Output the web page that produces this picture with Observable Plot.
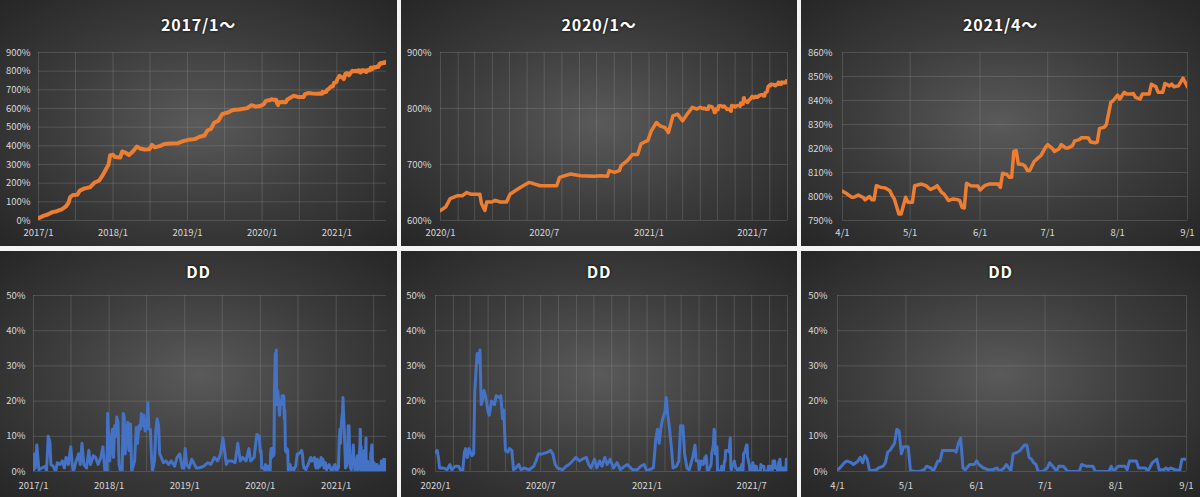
<!DOCTYPE html>
<html><head><meta charset="utf-8">
<script src="https://cdn.jsdelivr.net/npm/d3@7"></script>
<script src="https://cdn.jsdelivr.net/npm/@observablehq/plot@0.6"></script>
<style>
html,body{margin:0;padding:0;background:#fff;}
#page{position:relative;width:1200px;height:497px;background:#f4f4f4;overflow:hidden;}
.panel{position:absolute;overflow:hidden;background:radial-gradient(ellipse farthest-corner at 50% 50%, #5a5a5a 0%, #3d3d3d 50%, #262626 100%);}
.title{box-sizing:border-box;text-align:center;color:#fff;font-family:"Noto Sans CJK JP",sans-serif;font-weight:700;font-size:16px;line-height:32px;letter-spacing:0.8px;text-shadow:0 0 3px rgba(0,0,0,0.9);}
.panel svg{display:block;}
</style></head><body><div id="page"></div>
<script>
// ---------- data ----------
const panelTitles = ["2017/1～", "2020/1～", "2021/4～", "DD", "DD", "DD"];
const rangeStarts = ["2017-01-01", "2020-01-01", "2021-04-01"];
const rangeEnd = "2021-09-01";

const equityTicks = [
  [0, 100, 200, 300, 400, 500, 600, 700, 800, 900],
  [600, 700, 800, 900],
  [790, 800, 810, 820, 830, 840, 850, 860]
];
const equityDomains = [[0, 900], [600, 900], [790, 860]];
const ddTicks = [0, 10, 20, 30, 40, 50];

const xLabelTicks = [
  ["2017-01-01", "2018-01-01", "2019-01-01", "2020-01-01", "2021-01-01"],
  ["2020-01-01", "2020-07-01", "2021-01-01", "2021-07-01"],
  ["2021-04-01", "2021-05-01", "2021-06-01", "2021-07-01", "2021-08-01", "2021-09-01"]
];
const gridMonthStep = [6, 1, 1];

const equityDates = [
  "2017-01-01","2017-01-25","2017-02-15","2017-03-10","2017-04-01","2017-04-25","2017-05-15","2017-05-28",
  "2017-06-05","2017-06-20","2017-07-10","2017-07-22","2017-08-15","2017-09-10","2017-10-01","2017-10-25",
  "2017-11-10","2017-11-28","2017-12-10","2017-12-18","2018-01-01","2018-01-10","2018-02-05","2018-02-15",
  "2018-03-05","2018-03-20","2018-04-10","2018-04-28","2018-05-12","2018-06-05","2018-06-28","2018-07-10",
  "2018-07-25","2018-08-20","2018-09-10","2018-10-10","2018-11-15","2018-12-10","2019-01-05","2019-02-05",
  "2019-03-01","2019-03-25","2019-04-08","2019-04-25","2019-05-10","2019-06-01","2019-06-20","2019-07-20",
  "2019-08-10","2019-09-10","2019-10-20","2019-11-10","2019-12-01","2019-12-20",
  "2020-01-01","2020-01-10","2020-01-18","2020-01-30","2020-02-08","2020-02-16","2020-02-23","2020-03-10",
  "2020-03-13","2020-03-19","2020-03-22","2020-03-31","2020-04-06","2020-04-15","2020-04-26","2020-05-02",
  "2020-05-11","2020-05-20","2020-06-04","2020-06-12","2020-06-24","2020-07-23","2020-07-28","2020-08-16",
  "2020-09-03","2020-09-27","2020-10-08","2020-10-20","2020-10-23","2020-11-01","2020-11-10","2020-11-13",
  "2020-11-24","2020-12-03","2020-12-12","2020-12-18","2020-12-30","2021-01-05","2021-01-14","2021-01-20",
  "2021-01-29","2021-02-04","2021-02-12","2021-02-20","2021-03-01","2021-03-09","2021-03-18","2021-03-26",
  "2021-04-01","2021-04-03","2021-04-05","2021-04-06","2021-04-08","2021-04-10","2021-04-11","2021-04-13",
  "2021-04-14","2021-04-15","2021-04-16","2021-04-18","2021-04-20","2021-04-22","2021-04-23","2021-04-24",
  "2021-04-26","2021-04-27","2021-04-29","2021-04-30","2021-05-02","2021-05-03","2021-05-06","2021-05-08",
  "2021-05-10","2021-05-12","2021-05-13","2021-05-15","2021-05-16","2021-05-18","2021-05-20","2021-05-22",
  "2021-05-23","2021-05-24","2021-05-25","2021-05-26","2021-05-28","2021-05-31","2021-06-01","2021-06-03",
  "2021-06-05","2021-06-07","2021-06-09","2021-06-10","2021-06-11","2021-06-13","2021-06-14","2021-06-15",
  "2021-06-16","2021-06-17","2021-06-18","2021-06-20","2021-06-21","2021-06-22","2021-06-23","2021-06-25",
  "2021-06-27","2021-06-28","2021-06-30","2021-07-01","2021-07-03","2021-07-04","2021-07-06","2021-07-07",
  "2021-07-09","2021-07-10","2021-07-12","2021-07-13","2021-07-15","2021-07-16","2021-07-18","2021-07-19",
  "2021-07-20","2021-07-22","2021-07-23","2021-07-24","2021-07-26","2021-07-27","2021-07-29","2021-07-30",
  "2021-08-01","2021-08-02","2021-08-04","2021-08-05","2021-08-07","2021-08-08","2021-08-09","2021-08-11",
  "2021-08-12","2021-08-15","2021-08-16","2021-08-18","2021-08-19","2021-08-21","2021-08-22","2021-08-24",
  "2021-08-25","2021-08-26","2021-08-28","2021-08-30","2021-08-31","2021-09-01"
];
const equityValues = [
  12,25,32,45,50,60,75,95,
  125,137,138,160,172,178,202,214,
  240,276,300,350,352,340,337,370,
  362,350,372,396,386,380,382,405,
  392,400,410,413,414,425,432,436,
  449,455,482,490,522,535,570,580,
  592,595,602,618,610,613,
  618,624,639,644,644,650,647,647,
  630,618,633,633,636,633,633,647,
  653,659,668,666,662,662,677,683,
  680,679,680,679,689,686,689,698,
  707,718,718,737,743,760,775,769,
  766,757,787,790,778,790,802,799,
  802.2,801.1,799.7,799.7,800.6,799.7,798.6,800,
  798.6,798.6,804.5,803.8,803.5,802.4,800.4,799,
  792.7,792.7,799.7,797.6,797.6,804.5,805.2,804.5,
  802.9,803.8,804.5,801.7,801.1,798.3,799,798.7,
  798.3,795.5,795.2,805.5,804.5,804.4,802.7,804.5,
  805.2,805.2,805.2,803.8,809.7,809.1,808,808,
  818.8,819.1,813.5,813.3,812.6,810.8,810.8,814.6,
  816.3,817,820.5,821.6,820.1,818.8,819.8,821.6,
  820.2,820.2,821.2,823.2,823.7,824.5,824.5,824.4,
  822.7,822.4,822.7,828.4,828.8,829.9,839.2,839.9,
  842.2,840.6,843.4,842.7,842.7,842.9,841.3,840.6,
  842.7,842.7,846.8,845.7,843.4,843.4,847.1,846.1,
  846.8,845.7,846.1,849.3,847.5,845.7
];

const ddDates = [
  "2017-01-01","2017-01-06","2017-01-10","2017-01-17","2017-01-22","2017-01-27","2017-02-10","2017-02-26",
  "2017-03-05","2017-03-13","2017-03-21","2017-03-26","2017-04-06","2017-04-18","2017-04-26","2017-05-09",
  "2017-05-20","2017-05-30","2017-06-07","2017-06-18","2017-06-30","2017-07-07","2017-07-13","2017-07-26",
  "2017-08-07","2017-08-15","2017-08-23","2017-09-01","2017-09-14","2017-09-25","2017-10-03","2017-10-17",
  "2017-10-28","2017-11-09","2017-11-22","2017-12-02","2017-12-12","2017-12-22","2017-12-25","2017-12-30",
  "2018-01-04","2018-01-12","2018-01-17","2018-01-22","2018-01-28","2018-02-02","2018-02-07","2018-02-13",
  "2018-02-18","2018-02-26","2018-03-05","2018-03-10","2018-03-15","2018-03-20","2018-03-25","2018-04-01",
  "2018-04-07","2018-04-14","2018-04-20","2018-05-04","2018-05-12","2018-05-18","2018-05-25","2018-06-01",
  "2018-06-06","2018-06-11","2018-06-17","2018-06-24","2018-07-01","2018-07-07","2018-07-12","2018-07-19",
  "2018-07-24","2018-07-29","2018-08-08","2018-08-15","2018-08-21","2018-08-28","2018-09-02","2018-09-10",
  "2018-09-20","2018-10-03","2018-10-15","2018-10-28","2018-11-13","2018-11-25","2018-12-08","2018-12-20",
  "2018-12-28","2019-01-03","2019-01-10","2019-01-22","2019-02-04","2019-02-26","2019-03-09","2019-04-03",
  "2019-04-23","2019-05-07","2019-05-24","2019-06-09","2019-06-23","2019-07-04","2019-07-21","2019-07-29",
  "2019-08-15","2019-09-01","2019-09-14","2019-09-26","2019-10-08","2019-10-24","2019-11-07","2019-11-15",
  "2019-12-02","2019-12-10","2019-12-15","2019-12-27",
  "2020-01-01","2020-01-04","2020-01-06","2020-01-08","2020-01-15","2020-01-21","2020-01-26","2020-01-29",
  "2020-02-04","2020-02-10","2020-02-13","2020-02-17","2020-02-20","2020-02-22","2020-02-25","2020-02-28",
  "2020-03-04","2020-03-07","2020-03-09","2020-03-13","2020-03-15","2020-03-18","2020-03-20","2020-03-22",
  "2020-03-25","2020-03-28","2020-04-01","2020-04-03","2020-04-07","2020-04-12","2020-04-15","2020-04-20",
  "2020-04-23","2020-04-26","2020-04-28","2020-05-01","2020-05-05","2020-05-08","2020-05-12","2020-05-15",
  "2020-05-19","2020-05-24","2020-05-28","2020-06-02","2020-06-11","2020-06-19","2020-06-23","2020-06-27",
  "2020-07-04","2020-07-13","2020-07-18","2020-07-22","2020-07-26","2020-07-30","2020-08-08","2020-08-14",
  "2020-08-19","2020-08-25","2020-08-31","2020-09-06","2020-09-11","2020-09-18","2020-09-22","2020-09-26",
  "2020-10-02","2020-10-06","2020-10-11","2020-10-15","2020-10-20","2020-10-24","2020-10-29","2020-11-04",
  "2020-11-10","2020-11-16","2020-11-23","2020-11-28","2020-12-07","2020-12-15","2020-12-21","2020-12-27",
  "2021-01-01","2021-01-05","2021-01-12","2021-01-16","2021-01-19","2021-01-22","2021-01-25","2021-01-28",
  "2021-02-01","2021-02-03","2021-02-06","2021-02-09","2021-02-12","2021-02-15","2021-02-21","2021-02-25",
  "2021-02-28","2021-03-04","2021-03-07","2021-03-11","2021-03-15","2021-03-21","2021-03-25","2021-03-27",
  "2021-03-31",
  "2021-04-01","2021-04-02","2021-04-04","2021-04-05","2021-04-07","2021-04-08","2021-04-10","2021-04-11",
  "2021-04-12","2021-04-13","2021-04-14","2021-04-15","2021-04-16","2021-04-18","2021-04-19","2021-04-21",
  "2021-04-22","2021-04-23","2021-04-24","2021-04-26","2021-04-27","2021-04-28","2021-04-29","2021-04-30",
  "2021-05-01","2021-05-02","2021-05-03","2021-05-05","2021-05-07","2021-05-09","2021-05-10","2021-05-12",
  "2021-05-13","2021-05-15","2021-05-16","2021-05-17","2021-05-19","2021-05-22","2021-05-23","2021-05-24",
  "2021-05-25","2021-05-26","2021-05-27","2021-05-29","2021-05-31","2021-06-01","2021-06-02","2021-06-04",
  "2021-06-06","2021-06-08","2021-06-10","2021-06-11","2021-06-13","2021-06-14","2021-06-16","2021-06-17",
  "2021-06-19","2021-06-20","2021-06-22","2021-06-23","2021-06-24","2021-06-25","2021-06-26","2021-06-27",
  "2021-06-28","2021-06-30","2021-07-02","2021-07-03","2021-07-05","2021-07-06","2021-07-07","2021-07-09",
  "2021-07-11","2021-07-16","2021-07-17","2021-07-19","2021-07-22","2021-07-23","2021-07-29","2021-07-30",
  "2021-07-31","2021-08-02","2021-08-05","2021-08-06","2021-08-07","2021-08-10","2021-08-11","2021-08-14",
  "2021-08-15","2021-08-17","2021-08-19","2021-08-20","2021-08-22","2021-08-23","2021-08-24","2021-08-25",
  "2021-08-27","2021-08-29","2021-08-30","2021-09-01"
];
const ddValues = [
  0,5,1,7.5,4,0.5,1,1.5,
  0,10,8.5,2,1.5,0,2.5,2,
  3,1,4,2,7,2,0,3,
  5,2,8,2,1,6,2,4.5,
  4,2,4,7,0,0,16.5,10,
  3,9,12,4,13,10,15.5,14,
  2,0,0,16.5,15.5,5,10,14,
  6,13.5,0,3,12.5,8,13,12,
  16.5,13,16,11.5,12.5,19.5,12,12,
  5,0,3,12,15,13,5,4,
  2.5,3,2,3,1.5,4,5,1,
  1,6.5,2,1,3.5,1,1,1.5,
  2.5,2,4,3,5,9.5,2,3,
  3,2.5,8,3,4,3,6.5,3,
  4,8,10.5,10,
  5.5,6,4,1,1,0.5,2,0.5,
  1.5,1.5,0.5,0,5.5,6.5,4,6.5,
  4.5,5,23,33.5,31,34.5,19,20,
  23,21,17,16,20,19,21.5,21,
  21.5,15,17.5,6,5.5,6.5,6,0.5,
  1,2,0.5,1,0.5,1.5,3,5,
  5,5.5,6,5,2,1,0.5,1.5,
  2,3,4,3,3.5,4,2,1,
  3.5,1,3,1.5,4,2,3.5,1,
  2.5,0.5,1.5,2,0.5,0.5,1.5,2,
  0,0.5,1,9,12,8,12.5,15,
  17,21,16,12,7,1,1.5,3,
  13,13,5,1,0.5,4,7.5,3,
  3,
  0.5,1,2.5,3,2.5,2,3,4,
  2.5,4.5,3.5,0.5,0.2,0.5,1,1.5,
  2.5,5.5,6,8,12,11.5,5,7,
  7,7,0.2,0,0,0.5,1.5,1,
  0,3,3,6,6,6,5.5,8,
  9.5,1,0.5,2,2,3,2,1,
  0.5,0.5,1,0,1,2,0.2,5,
  5.5,6,7.5,7.5,4,3.5,2.5,2,
  0,0,1,2.5,1,0,1.5,1.5,
  0,0,2,1.5,1.5,0,0,1.5,
  0,1.5,1.5,0.5,3,3,1,1,
  0,2.5,3.5,0.5,0.5,1,0.5,1,
  0.5,0.2,3.5,3.5
];

// ---------- build ----------
const parse = s => new Date(s + "T00:00:00Z");
const equity = equityDates.map((d, i) => ({date: parse(d), value: equityValues[i]}));
const drawdown = ddDates.map((d, i) => ({date: parse(d), value: ddValues[i]}));

const fmtYM = d => `${d.getUTCFullYear()}/${d.getUTCMonth() + 1}`;
const fmtMD = d => `${d.getUTCMonth() + 1}/${d.getUTCDate()}`;
const xFormats = [fmtYM, fmtYM, fmtMD];

// layout
const colX = [0, 401, 801], colW = [397, 396, 399];
const rowY = [0, 251], rowH = 246;
const margins = [
  [{l: 38, r: 11, p: 8}, {l: 39, r: 10, p: 9}, {l: 41, r: 13, p: 10}],
  [{l: 33, r: 11, p: 8}, {l: 34, r: 10, p: 10}, {l: 36, r: 14, p: 10}]
];
const ORANGE = "#ED7D31", BLUE = "#4472C4";
const GRID = {stroke: "#9a9a9a", strokeOpacity: 0.28, strokeWidth: 1};

const page = document.getElementById("page");

for (let row = 0; row < 2; row++) {
  for (let col = 0; col < 3; col++) {
    const start = parse(rangeStarts[col]), end = parse(rangeEnd);
    const panel = document.createElement("div");
    panel.className = "panel";
    Object.assign(panel.style, {left: colX[col] + "px", top: rowY[row] + "px", width: colW[col] + "px", height: rowH + "px"});
    const title = document.createElement("div");
    title.className = "title";
    const titleH = row === 0 ? 40 : 36;
    Object.assign(title.style, {height: titleH + "px", paddingTop: (row === 0 ? 8 : 4) + "px"});
    title.textContent = panelTitles[row * 3 + col];
    panel.appendChild(title);

    const m = margins[row][col];
    const src = row === 0 ? equity : drawdown;
    const data = src.filter(d => d.date >= start && d.date <= end);
    const yTicks = row === 0 ? equityTicks[col] : ddTicks;
    const yDomain = row === 0 ? equityDomains[col] : [0, 50];
    const gridDates = d3.utcMonth.every(gridMonthStep[col]).range(start, new Date(+end + 1));
    const labelDates = xLabelTicks[col].map(parse);

    const svg = Plot.plot({
      width: colW[col],
      height: rowH - titleH,
      marginLeft: m.l, marginRight: m.r,
      marginTop: row === 0 ? 12 : 8, marginBottom: 26,
      style: {background: "transparent", color: "#d9d9d9", fontSize: "9.5px", fontFamily: '"Noto Sans CJK JP", sans-serif', overflow: "visible"},
      x: {type: "utc", domain: [start, end], label: null},
      y: {domain: yDomain, label: null},
      marks: [
        Plot.gridY(yTicks, GRID),
        Plot.gridX(gridDates, GRID),
        Plot.axisY(yTicks, {tickSize: 0, tickPadding: m.p, tickFormat: d => d + "%", label: null}),
        Plot.axisX(labelDates, {tickSize: 0, tickPadding: row === 0 ? 9 : 11, tickFormat: xFormats[col], label: null}),
        Plot.line(data, {x: "date", y: "value", stroke: row === 0 ? ORANGE : BLUE,
          strokeWidth: row === 0 ? (col === 0 ? 4 : 3.5) : 3, strokeLinejoin: "round", strokeLinecap: "round", clip: true})
      ]
    });
    panel.appendChild(svg);
    page.appendChild(panel);
  }
}
</script>
</body></html>
